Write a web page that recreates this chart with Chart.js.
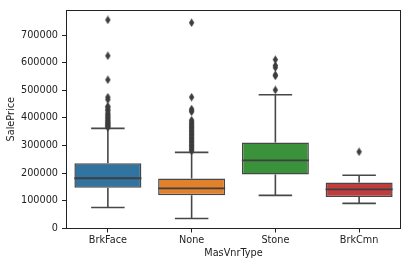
<!DOCTYPE html>
<html>
<head>
<meta charset="utf-8">
<script src="https://cdn.jsdelivr.net/npm/chart.js@4/dist/chart.umd.min.js"></script>
<style>
  html, body { margin: 0; padding: 0; background: #fff; }
  #wrap { width: 411px; height: 266px; }
</style>
</head>
<body>
<div id="wrap"><canvas id="myChart" width="411" height="266"></canvas></div>
<script>
// categories and box stats
const categories = ['BrkFace', 'None', 'Stone', 'BrkCmn'];
const q1 = [147000, 119000, 195000, 113000];
const median = [181000, 144000, 246000, 141000];
const q3 = [235000, 180000, 311000, 166000];
const whiskerLow = [75000, 35000, 119000, 90000];
const whiskerHigh = [362000, 275000, 484000, 192000];
const outliers = [
    [755000, 625000, 538000, 475000, 466000, 442000, 438000, 430000, 426000, 418000, 412000,
     407000, 402000, 397000, 392000, 388000, 384000, 380000, 376000, 372000, 369000, 366000],
    [745000, 475000, 432000, 426000, 422000, 392000, 386000, 380000, 375000, 370000, 365000,
     360000, 355000, 350000, 345000, 340000, 335000, 330000, 325000, 320000, 315000, 310000,
     305000, 300000, 295000, 290000, 285000, 280000],
    [611000, 590000, 582000, 556000, 552000, 501000],
    [277000]
];
const yTicks = [0, 100000, 200000, 300000, 400000, 500000, 600000, 700000];

const boxColors = ['#3274a1', '#e1812c', '#3a923a', '#c03d3e'];
const lineGray = '#474747';
const FONT = { family: 'DejaVu Sans', size: 9.7 };

// thin diamond marker like matplotlib 'd'
const diamond = document.createElement('canvas');
diamond.width = 7;
diamond.height = 9;
(function () {
    const c = diamond.getContext('2d');
    c.fillStyle = '#3d3d3d';
    c.beginPath();
    c.moveTo(3.5, 0.3);
    c.lineTo(6.2, 4.5);
    c.lineTo(3.5, 8.7);
    c.lineTo(0.8, 4.5);
    c.closePath();
    c.fill();
})();

// whisker / cap / median segments, broken with nulls
const capHalf = 0.2, boxHalf = 0.4;
const whiskerPts = [];
const medianPts = [];
categories.forEach((c, i) => {
    whiskerPts.push({x: i - capHalf, y: whiskerLow[i]}, {x: i + capHalf, y: whiskerLow[i]}, {x: i, y: null});
    whiskerPts.push({x: i, y: whiskerLow[i]}, {x: i, y: q1[i]}, {x: i, y: null});
    whiskerPts.push({x: i, y: q3[i]}, {x: i, y: whiskerHigh[i]}, {x: i, y: null});
    whiskerPts.push({x: i - capHalf, y: whiskerHigh[i]}, {x: i + capHalf, y: whiskerHigh[i]}, {x: i, y: null});
    medianPts.push({x: i - boxHalf, y: median[i]}, {x: i + boxHalf, y: median[i]}, {x: i, y: null});
});
const outlierPts = [];
outliers.forEach((list, i) => list.forEach(v => outlierPts.push({x: i, y: v})));

// four spines around the plot area
const frame = {
    id: 'frame',
    afterDraw(chart) {
        const a = chart.chartArea, c = chart.ctx;
        const l = Math.round(a.left) + 0.5, r = Math.round(a.right) - 0.5;
        const t = Math.round(a.top) + 0.5, b = Math.round(a.bottom) - 0.5;
        c.save();
        c.strokeStyle = '#222';
        c.lineWidth = 1;
        c.strokeRect(l, t, r - l, b - t);
        c.restore();
    }
};

const ctx = document.getElementById('myChart').getContext('2d');

new Chart(ctx, {
    data: {
        datasets: [
            {
                type: 'bar',
                data: categories.map((c, i) => ({x: i, y: [q1[i], q3[i]]})),
                backgroundColor: boxColors,
                borderColor: lineGray,
                borderWidth: 1.5,
                borderSkipped: false,
                barPercentage: 0.8,
                categoryPercentage: 1.0,
                order: 3
            },
            {
                type: 'line',
                data: whiskerPts,
                borderColor: lineGray,
                borderWidth: 1.6,
                pointRadius: 0,
                spanGaps: false,
                fill: false,
                order: 2
            },
            {
                type: 'line',
                data: medianPts,
                borderColor: '#3f3f3f',
                borderWidth: 1.8,
                pointRadius: 0,
                spanGaps: false,
                fill: false,
                order: 1
            },
            {
                type: 'scatter',
                data: outlierPts,
                pointStyle: diamond,
                order: 0
            }
        ]
    },
    options: {
        responsive: false,
        animation: false,
        layout: { padding: { left: 2, right: 10, top: 10, bottom: 3 } },
        plugins: {
            legend: { display: false },
            tooltip: { enabled: false }
        },
        scales: {
            x: {
                type: 'linear',
                offset: false,
                min: -0.5,
                max: 3.5,
                afterFit: s => { s.height = 34.5; },
                afterBuildTicks: s => { s.ticks = categories.map((c, i) => ({value: i})); },
                ticks: {
                    font: FONT,
                    color: '#222',
                    padding: 2,
                    maxRotation: 0,
                    callback: v => categories[v]
                },
                grid: { drawOnChartArea: false, tickLength: 4, color: '#222', offset: false },
                border: { display: false },
                title: { display: true, text: 'MasVnrType', font: FONT, color: '#222', padding: 4 }
            },
            y: {
                type: 'linear',
                min: -1100,
                max: 791000,
                afterFit: s => { s.width = 64; },
                afterBuildTicks: s => { s.ticks = yTicks.map(v => ({value: v})); },
                ticks: {
                    font: FONT,
                    color: '#222',
                    padding: 4,
                    callback: v => String(v)
                },
                grid: { drawOnChartArea: false, tickLength: 4, color: '#222' },
                border: { display: false },
                title: { display: true, text: 'SalePrice', font: FONT, color: '#222', padding: 4 }
            }
        }
    },
    plugins: [frame]
});
</script>
</body>
</html>
